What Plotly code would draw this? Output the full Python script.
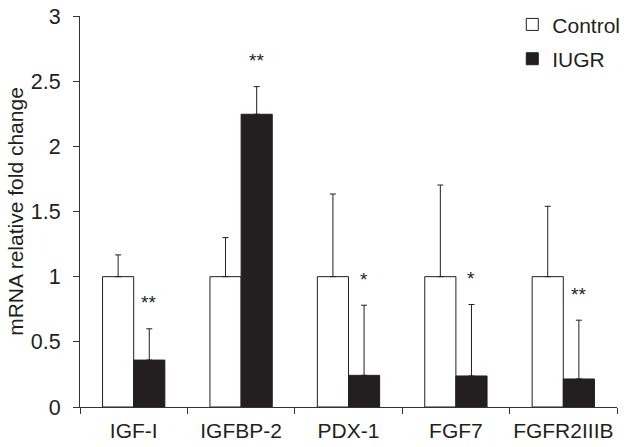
import plotly.graph_objects as go

categories = ["IGF-I", "IGFBP-2", "PDX-1", "FGF7", "FGFR2IIIB"]
control_mean = [1.0, 1.0, 1.0, 1.0, 1.0]
control_err = [0.167, 0.30, 0.634, 0.703, 0.54]
iugr_mean = [0.36, 2.246, 0.243, 0.238, 0.215]
iugr_err = [0.24, 0.212, 0.538, 0.548, 0.451]
significance = ["**", "**", "*", "*", "**"]

TXT = "#231f20"
FONT = "Liberation Sans, Arial, sans-serif"

fig = go.Figure()
fig.add_trace(go.Bar(
    x=categories, y=control_mean, name="Control", legendgroup="c",
    marker=dict(color="white", line=dict(color=TXT, width=1)),
    error_y=dict(type="data", array=control_err, arrayminus=[0]*5, symmetric=False,
                 color=TXT, thickness=1, width=3),
))
fig.add_trace(go.Bar(
    x=categories, y=iugr_mean, name="IUGR", legendgroup="i",
    marker=dict(color=TXT, line=dict(color=TXT, width=1)),
    error_y=dict(type="data", array=iugr_err, arrayminus=[0]*5, symmetric=False,
                 color=TXT, thickness=1, width=3),
))

for i, (c, m, e, s) in enumerate(zip(categories, iugr_mean, iugr_err, significance)):
    fig.add_annotation(
        x=i + 0.14, y=m + e + 0.2, xref="x", yref="y", text=s, showarrow=False,
        font=dict(size=19, color=TXT, family=FONT), yanchor="middle", xanchor="center",
    )

fig.update_layout(
    template=None,
    width=629, height=447,
    margin=dict(l=80, r=12, t=16, b=40, autoexpand=False),
    paper_bgcolor="white", plot_bgcolor="white",
    barmode="group", bargap=0.42, bargroupgap=0,
    font=dict(family=FONT, color=TXT, size=21),
    showlegend=True,
    legend=dict(x=0.805, y=1.03, xanchor="left", yanchor="top",
                font=dict(size=21, color=TXT, family=FONT),
                bgcolor="rgba(0,0,0,0)", tracegroupgap=4, traceorder="grouped"),
    xaxis=dict(
        showline=True, linecolor="#333333", linewidth=1,
        ticks="outside", ticklen=6, tickcolor="#333333", tickson="boundaries",
        tickangle=0, ticklabelstandoff=5,
        tickfont=dict(size=21, color=TXT, family=FONT),
        showgrid=False, zeroline=False, automargin=False,
    ),
    yaxis=dict(
        range=[0, 3], tickvals=[0, 0.5, 1, 1.5, 2, 2.5, 3],
        ticktext=["0", "0.5", "1", "1.5", "2", "2.5", "3"],
        showline=True, linecolor="#333333", linewidth=1,
        ticks="outside", ticklen=6, tickcolor="#333333", ticklabelstandoff=8,
        tickfont=dict(size=21.5, color=TXT, family=FONT),
        title=dict(text="mRNA relative fold change", font=dict(size=21, color=TXT, family=FONT), standoff=1),
        showgrid=False, zeroline=False, automargin=False,
    ),
)

fig.write_html("out.html", config={"displayModeBar": False},
               post_script="document.body.style.margin='0';")
